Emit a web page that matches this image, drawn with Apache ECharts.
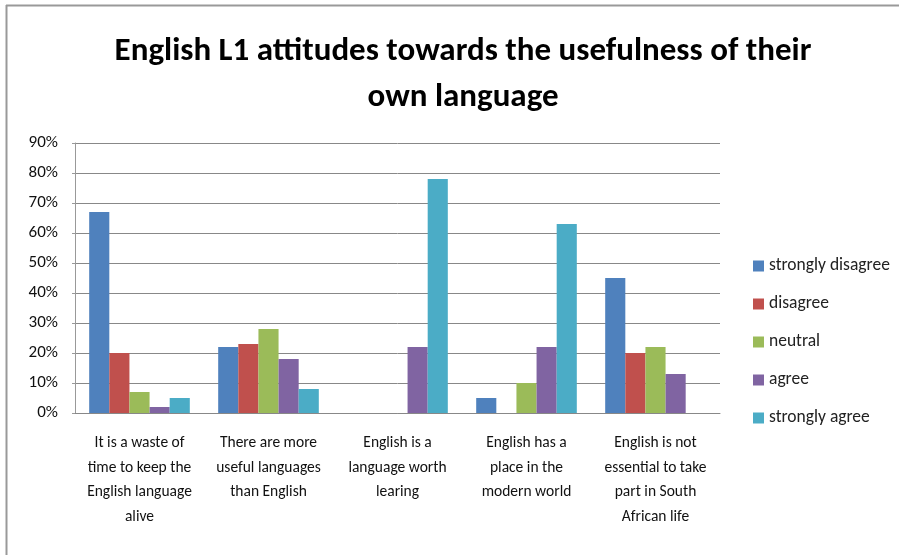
<!DOCTYPE html>
<html><head><meta charset="utf-8">
<script src="https://cdn.jsdelivr.net/npm/echarts@6/dist/echarts.min.js"></script>
<style>html,body{margin:0;padding:0;background:#fff}#c{width:899px;height:555px}</style>
</head><body><div id="c"></div>
<script>
const categories = [
  "It is a waste of\ntime to keep the\nEnglish language\nalive",
  "There are more\nuseful languages\nthan English",
  "English is a\nlanguage worth\nlearing",
  "English has a\nplace in the\nmodern world",
  "English is not\nessential to take\npart in South\nAfrican life"
];
const seriesNames = ["strongly disagree","disagree","neutral","agree","strongly agree"];
const stronglyDisagree = [67, 22, 0, 5, 45];
const disagree = [20, 23, 0, 0, 20];
const neutral = [7, 28, 0, 10, 22];
const agree = [2, 18, 22, 22, 13];
const stronglyAgree = [5, 8, 78, 63, 0];
const colors = ["#4F81BD","#C0504D","#9BBB59","#8064A2","#4BACC6"];
const values = [stronglyDisagree, disagree, neutral, agree, stronglyAgree];
const FONT = "Carlito, Lato, 'Open Sans', sans-serif";

const chart = echarts.init(document.getElementById('c'));
chart.setOption({
  animation: false,
  textStyle: {fontFamily: FONT},
  title: {
    text: "English L1 attitudes towards the usefulness of their\nown language",
    left: 458, top: 24, textAlign: 'center',
    textStyle: {fontFamily: FONT, fontSize: 33, fontWeight: 'bold', color: '#000', lineHeight: 46}
  },
  graphic: [
    {type: 'line', shape: {x1: 6, y1: 5.5, x2: 899, y2: 5.5}, style: {stroke: '#999', lineWidth: 2}},
    {type: 'line', shape: {x1: 6.5, y1: 5, x2: 6.5, y2: 555}, style: {stroke: '#999', lineWidth: 2}}
  ],
  legend: {
    orient: 'vertical', left: 748, top: 252, itemGap: 20, itemWidth: 11, itemHeight: 11, icon: 'rect',
    textStyle: {fontFamily: FONT, fontSize: 17.5, color: '#222', lineHeight: 18},
    data: seriesNames
  },
  grid: {left: 75, right: 179, top: 143, bottom: 142},
  xAxis: {
    type: 'category', data: categories,
    axisLine: {lineStyle: {color: '#888'}}, axisTick: {show: false},
    axisLabel: {interval: 0, fontFamily: FONT, fontSize: 15.5, color: '#111', lineHeight: 24.5, margin: 18}
  },
  yAxis: {
    type: 'value', min: 0, max: 90, interval: 10,
    axisLine: {show: true, lineStyle: {color: '#999'}},
    axisTick: {show: true, length: 3, lineStyle: {color: '#999'}},
    splitLine: {lineStyle: {color: '#888'}},
    axisLabel: {formatter: '{value}%', fontFamily: FONT, fontSize: 17, color: '#111', margin: 17}
  },
  series: seriesNames.map((n, i) => ({
    name: n, type: 'bar', data: values[i], barGap: '0%', barCategoryGap: '22%',
    itemStyle: {color: colors[i]}
  }))
});
</script></body></html>
